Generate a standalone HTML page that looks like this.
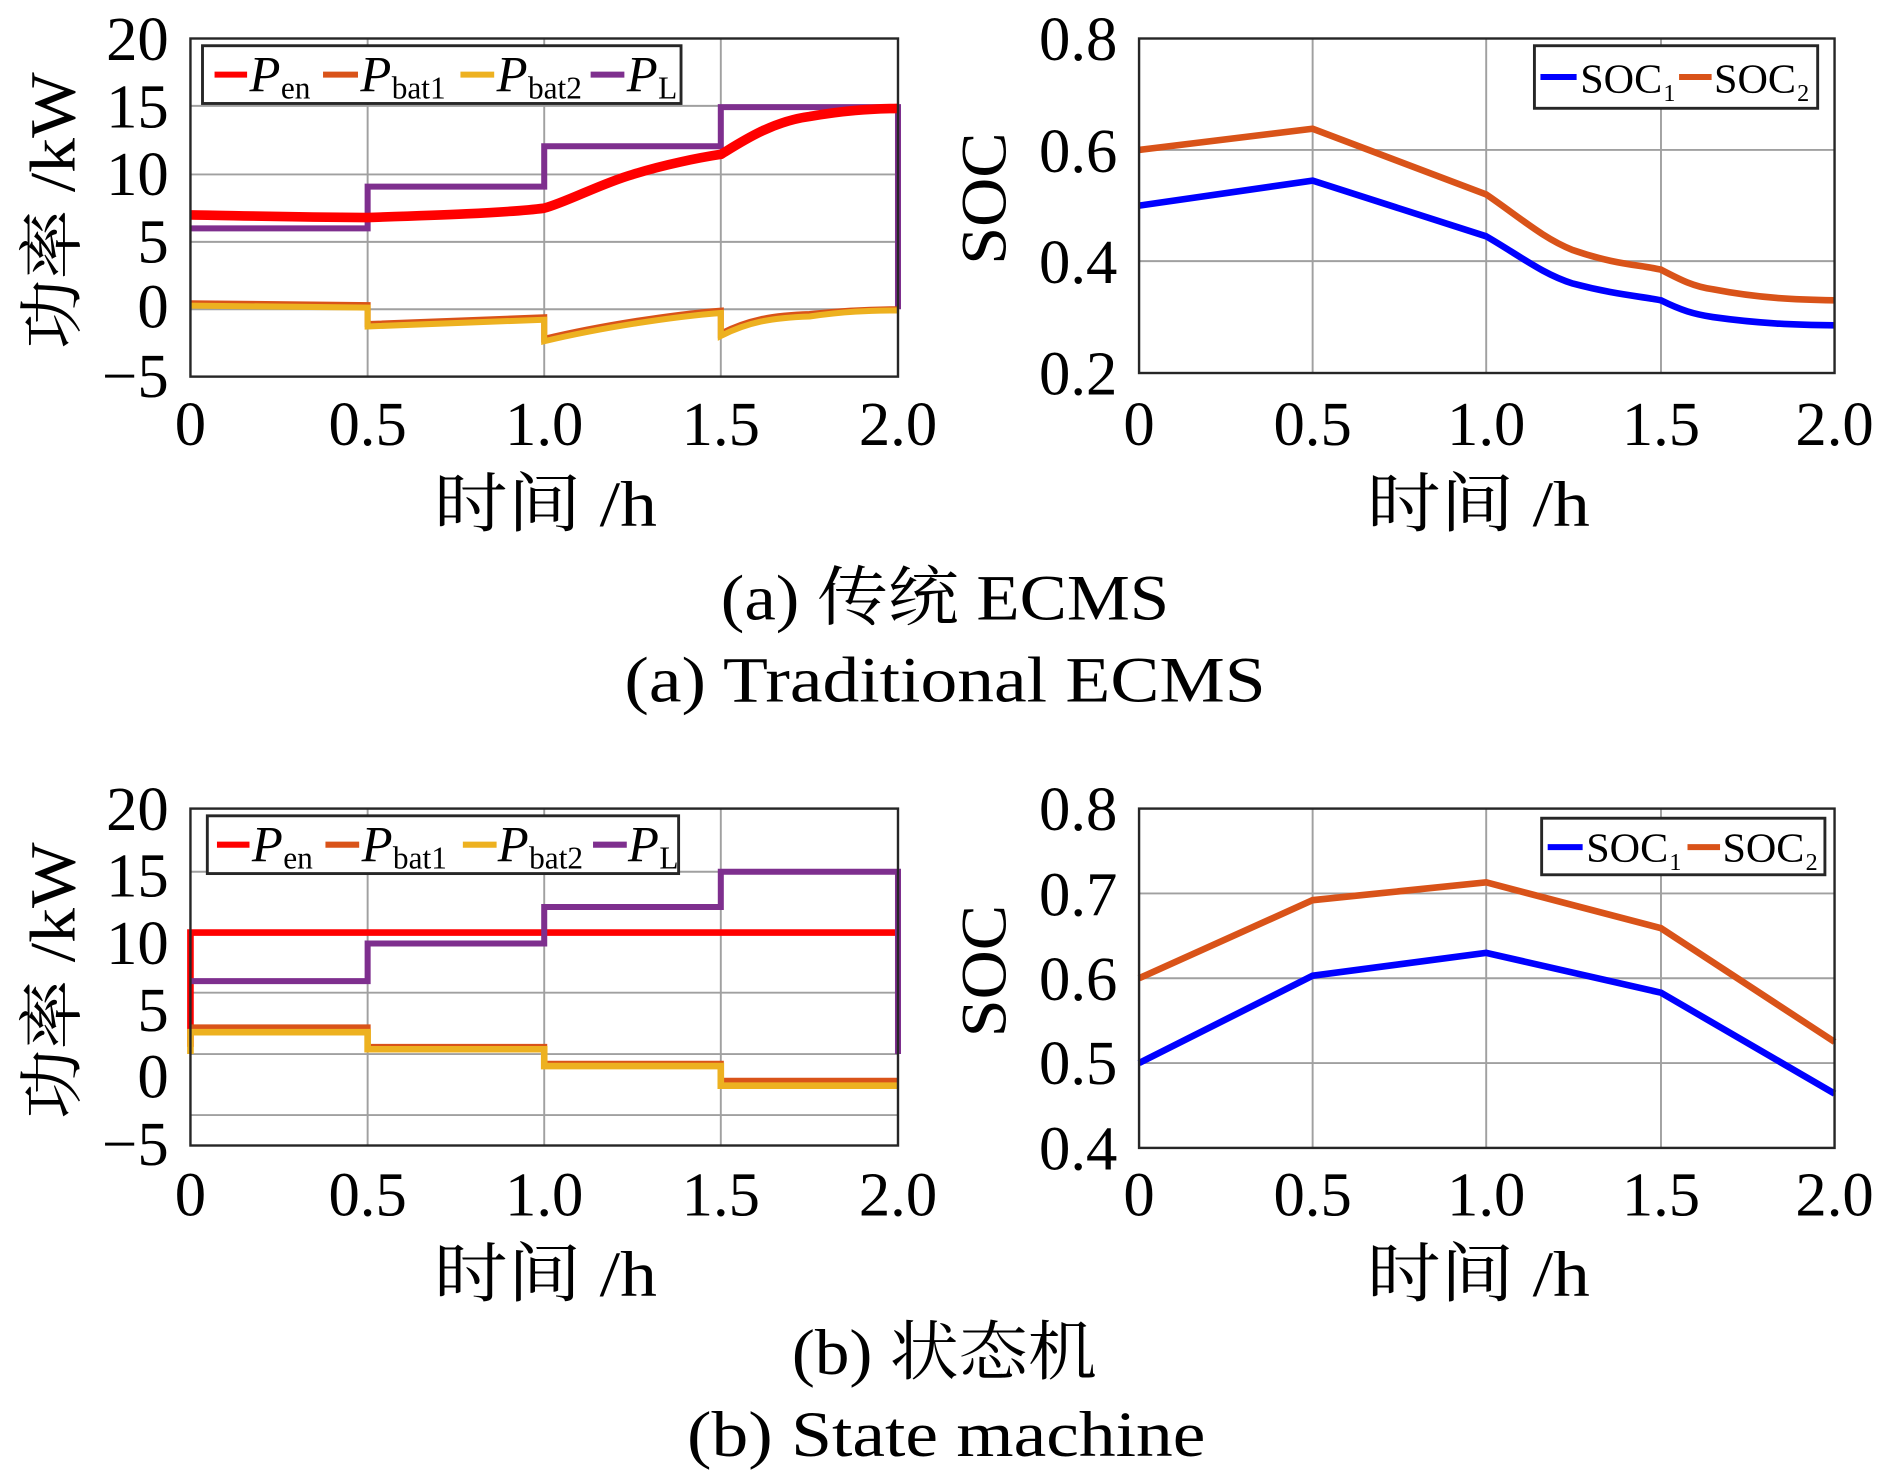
<!DOCTYPE html>
<html><head><meta charset="utf-8"><style>
html,body{margin:0;padding:0;background:#fff;}
svg{display:block;}
text{font-family:"Liberation Serif","Noto Serif CJK SC",serif;fill:#000;}
.t{font-size:52px;}
.g{stroke:#a0a0a0;stroke-width:1.6;fill:none;}
.ax{stroke:#262626;stroke-width:2;fill:none;}
.lg{stroke:#262626;stroke-width:2.4;fill:#fff;}
</style></head><body>
<svg width="1890" height="1474" viewBox="0 0 1568 1225" preserveAspectRatio="none" xmlns="http://www.w3.org/2000/svg">
<rect width="1568" height="1225" fill="#fff"/>

<!-- ========== Plot 1 ========== -->
<g>
<path class="g" d="M305 32V313M451.5 32V313M598 32V313M158 88H745M158 145H745M158 201H745M158 257H745"/>
<path d="M158 189.8H305V155.1H451.5V121.5H598V89H745V257" stroke="#7e2f8e" stroke-width="5" fill="none"/>
<path d="M158 178.6C190 179 230 180.3 304.8 180.8C360 179 420 177 451.5 173C470 168 500 152 524.9 145C550 137 580 131 598.3 128.2C615 118 640 101 671.6 96.8C700 92 720 90.5 745 90.1" stroke="#ff0000" stroke-width="8" fill="none"/>
<path d="M158 252L305 253.6V269.3L451.5 263.7V281.6C500 270 560 261 598 258.1V277.2C620 266 640 262 671.6 261C700 258 720 257 745 257" stroke="#d95319" stroke-width="5" fill="none"/>
<path d="M158 254L305 255.6V271.3L451.5 265.7V283.6C500 272 560 263 598 260.1V279.2C620 268 640 264 671.6 263C700 259 720 258 745 258" stroke="#edb120" stroke-width="5" fill="none"/>
<rect class="ax" x="158" y="32" width="587" height="281"/>
<rect class="lg" x="168" y="38" width="397" height="48"/>
<path d="M178 62H205" stroke="#ff0000" stroke-width="5"/>
<path d="M268 62H297" stroke="#d95319" stroke-width="5"/>
<path d="M382 62H410" stroke="#edb120" stroke-width="5"/>
<path d="M490 62H518" stroke="#7e2f8e" stroke-width="5"/>
<text x="207" y="76" font-size="42" font-style="italic">P</text><text x="233" y="82" font-size="26">en</text>
<text x="299" y="76" font-size="42" font-style="italic">P</text><text x="325" y="82" font-size="26">bat1</text>
<text x="412" y="76" font-size="42" font-style="italic">P</text><text x="438" y="82" font-size="26">bat2</text>
<text x="520" y="76" font-size="42" font-style="italic">P</text><text x="546" y="82" font-size="26">L</text>
<g class="t" text-anchor="end">
<text x="140" y="50">20</text><text x="140" y="106">15</text><text x="140" y="162">10</text><text x="140" y="218">5</text><text x="140" y="272">0</text><text x="140" y="330">−5</text>
</g>
<g class="t" text-anchor="middle">
<text x="158" y="370">0</text><text x="305" y="370">0.5</text><text x="451.5" y="370">1.0</text><text x="598" y="370">1.5</text><text x="745" y="370">2.0</text>
</g>
<text x="360" y="437" font-size="54" textLength="185" lengthAdjust="spacingAndGlyphs">时间 /h</text>
<text transform="translate(62,290) rotate(-90)" font-size="54" textLength="230" lengthAdjust="spacingAndGlyphs">功率 /kW</text>
</g>

<!-- ========== Plot 2 ========== -->
<g>
<path class="g" d="M1089 32V310M1233 32V310M1378 32V310M945 124.6H1522M945 217H1522"/>
<path d="M945 170.9L1089 150.1L1233 196.4C1260 212 1280 228 1305 235.7C1340 245 1360 246 1378 249.6C1395 258 1405 261 1421 263.5C1460 269 1490 270 1522 270.4" stroke="#0000ff" stroke-width="5.5" fill="none"/>
<path d="M945 124.6L1089 107L1233 161.6C1260 180 1280 198 1305 207.9C1340 220 1360 220 1378 224.1C1395 233 1405 238 1421 240.4C1460 248 1490 249 1522 249.6" stroke="#d95319" stroke-width="5.5" fill="none"/>
<rect class="ax" x="945" y="32" width="577" height="278"/>
<rect class="lg" x="1273" y="38" width="235" height="52"/>
<path d="M1278 64H1308" stroke="#0000ff" stroke-width="5"/>
<path d="M1393 64H1420" stroke="#d95319" stroke-width="5"/>
<text x="1311" y="77" font-size="34" textLength="68" lengthAdjust="spacingAndGlyphs">SOC</text><text x="1380" y="84" font-size="20">1</text>
<text x="1422" y="77" font-size="34" textLength="68" lengthAdjust="spacingAndGlyphs">SOC</text><text x="1491" y="84" font-size="20">2</text>
<g class="t" text-anchor="end">
<text x="927" y="50">0.8</text><text x="927" y="143">0.6</text><text x="927" y="235">0.4</text><text x="927" y="328">0.2</text>
</g>
<g class="t" text-anchor="middle">
<text x="945" y="370">0</text><text x="1089" y="370">0.5</text><text x="1233" y="370">1.0</text><text x="1378" y="370">1.5</text><text x="1522" y="370">2.0</text>
</g>
<text x="1134" y="437" font-size="54" textLength="185" lengthAdjust="spacingAndGlyphs">时间 /h</text>
<text transform="translate(834,220) rotate(-90)" font-size="54" textLength="110" lengthAdjust="spacingAndGlyphs">SOC</text>
</g>

<text x="598" y="515" font-size="54" textLength="372" lengthAdjust="spacingAndGlyphs">(a) 传统 ECMS</text>
<text x="518" y="583" font-size="54" textLength="532" lengthAdjust="spacingAndGlyphs">(a) Traditional ECMS</text>

<!-- ========== Plot 3 ========== -->
<g>
<path class="g" d="M305 672V952M451.5 672V952M598 672V952M158 724.5H745M158 774.6H745M158 825H745M158 876H745M158 926.7H745"/>
<path d="M158 870V775H745" stroke="#ff0000" stroke-width="5.5" fill="none"/>
<path d="M158 815.4H305V784.1H451.5V753.8H598V724.5H745V876" stroke="#7e2f8e" stroke-width="5" fill="none"/>
<path d="M158 853.8H305V870H451.5V884.1H598V898.2H745" stroke="#d95319" stroke-width="5" fill="none"/>
<path d="M158 876V857.8H305V872H451.5V886H598V902.3H745" stroke="#edb120" stroke-width="5.5" fill="none"/>
<rect class="ax" x="158" y="672" width="587" height="280"/>
<rect class="lg" x="172" y="678" width="391" height="48"/>
<path d="M180 702H207" stroke="#ff0000" stroke-width="5"/>
<path d="M270 702H298" stroke="#d95319" stroke-width="5"/>
<path d="M384 702H412" stroke="#edb120" stroke-width="5"/>
<path d="M492 702H520" stroke="#7e2f8e" stroke-width="5"/>
<text x="209" y="716" font-size="42" font-style="italic">P</text><text x="235" y="722" font-size="26">en</text>
<text x="300" y="716" font-size="42" font-style="italic">P</text><text x="326" y="722" font-size="26">bat1</text>
<text x="413" y="716" font-size="42" font-style="italic">P</text><text x="439" y="722" font-size="26">bat2</text>
<text x="521" y="716" font-size="42" font-style="italic">P</text><text x="547" y="722" font-size="26">L</text>
<g class="t" text-anchor="end">
<text x="140" y="690">20</text><text x="140" y="745">15</text><text x="140" y="801">10</text><text x="140" y="857">5</text><text x="140" y="912">0</text><text x="140" y="968">−5</text>
</g>
<g class="t" text-anchor="middle">
<text x="158" y="1010">0</text><text x="305" y="1010">0.5</text><text x="451.5" y="1010">1.0</text><text x="598" y="1010">1.5</text><text x="745" y="1010">2.0</text>
</g>
<text x="360" y="1077" font-size="54" textLength="185" lengthAdjust="spacingAndGlyphs">时间 /h</text>
<text transform="translate(62,930) rotate(-90)" font-size="54" textLength="230" lengthAdjust="spacingAndGlyphs">功率 /kW</text>
</g>

<!-- ========== Plot 4 ========== -->
<g>
<path class="g" d="M1089 672V954M1233 672V954M1378 672V954M945 742.5H1522M945 813H1522M945 883.5H1522"/>
<path d="M945 883.5L1089 810.9L1233 791.9L1378 825L1522 908.9" stroke="#0000ff" stroke-width="5.5" fill="none"/>
<path d="M945 813L1089 748.1L1233 733.3L1378 771.4L1522 865.9" stroke="#d95319" stroke-width="5.5" fill="none"/>
<rect class="ax" x="945" y="672" width="577" height="282"/>
<rect class="lg" x="1279" y="680" width="235" height="47"/>
<path d="M1284 704H1313" stroke="#0000ff" stroke-width="5"/>
<path d="M1400 704H1427" stroke="#d95319" stroke-width="5"/>
<text x="1316" y="716" font-size="34" textLength="68" lengthAdjust="spacingAndGlyphs">SOC</text><text x="1385" y="723" font-size="20">1</text>
<text x="1429" y="716" font-size="34" textLength="68" lengthAdjust="spacingAndGlyphs">SOC</text><text x="1498" y="723" font-size="20">2</text>
<g class="t" text-anchor="end">
<text x="927" y="690">0.8</text><text x="927" y="761">0.7</text><text x="927" y="831">0.6</text><text x="927" y="901">0.5</text><text x="927" y="972">0.4</text>
</g>
<g class="t" text-anchor="middle">
<text x="945" y="1010">0</text><text x="1089" y="1010">0.5</text><text x="1233" y="1010">1.0</text><text x="1378" y="1010">1.5</text><text x="1522" y="1010">2.0</text>
</g>
<text x="1134" y="1077" font-size="54" textLength="185" lengthAdjust="spacingAndGlyphs">时间 /h</text>
<text transform="translate(834,862) rotate(-90)" font-size="54" textLength="110" lengthAdjust="spacingAndGlyphs">SOC</text>
</g>

<text x="657" y="1142" font-size="54" textLength="253" lengthAdjust="spacingAndGlyphs">(b) 状态机</text>
<text x="570" y="1210" font-size="54" textLength="430" lengthAdjust="spacingAndGlyphs">(b) State machine</text>
</svg>
</body></html>
